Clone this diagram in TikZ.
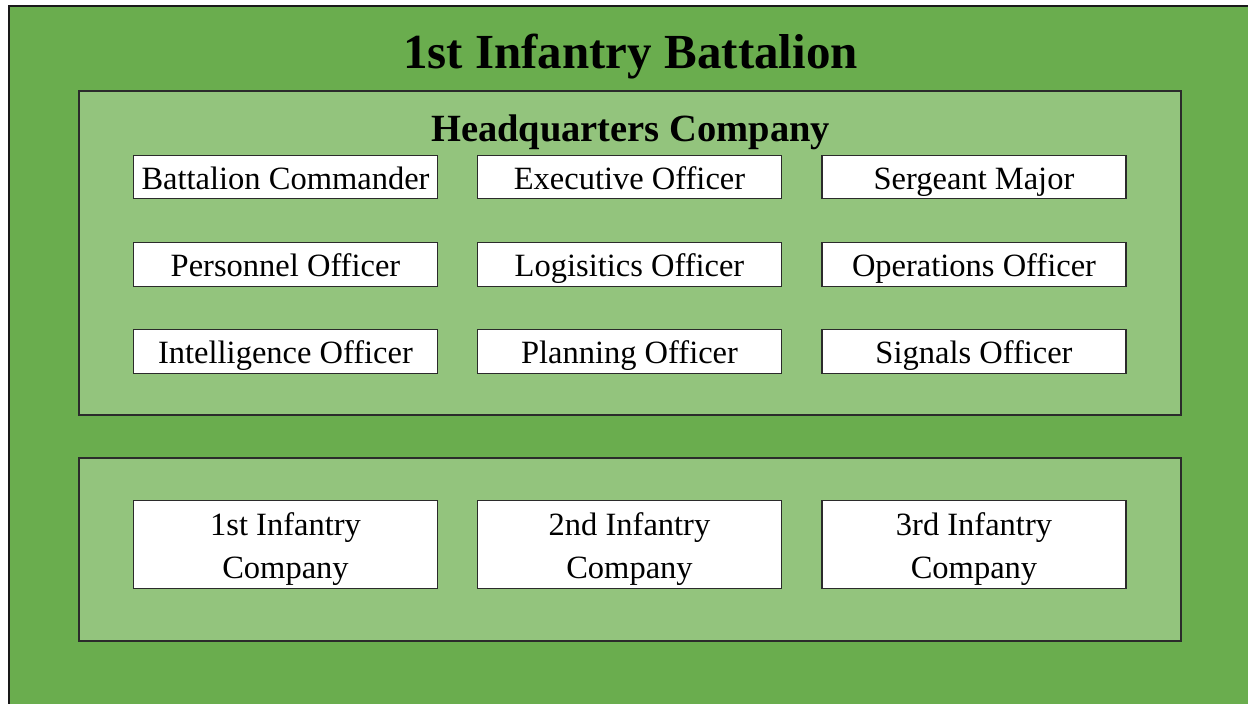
\documentclass[tikz,border=0pt]{standalone}
\usepackage{fontspec}
\setmainfont{Liberation Serif}
\definecolor{outergreen}{HTML}{6AAD4E}
\definecolor{panelgreen}{HTML}{93C47D}
\definecolor{edgegray}{HTML}{2B2B2B}
\begin{document}
\begin{tikzpicture}[x=1pt,y=-1pt,
  outerbg/.style={fill=outergreen, draw=black!90, line width=2.2pt},
  panel/.style={fill=panelgreen, draw=edgegray, line width=1.3pt, inner sep=0pt, minimum width=1102pt},
  rolebox/.style={draw=edgegray, line width=1.2pt, fill=white, minimum width=304pt, minimum height=43.5pt, inner sep=0pt, font=\fontsize{32.5}{43}\selectfont, text height=24pt, text depth=0pt},
  cobox/.style={rolebox, minimum height=87.5pt, align=center, text height=67pt, text depth=0pt},
  titletext/.style={anchor=base, font=\bfseries\fontsize{49}{58}\selectfont},
  subtitletext/.style={anchor=base, font=\bfseries\fontsize{38.5}{46}\selectfont}]
\useasboundingbox (0,0) rectangle (1248,704);
\fill[white] (0,0) rectangle (1248,704);
\begin{scope}
  \clip (0,0) rectangle (1248,704);
  \draw[outerbg] (9,6) rectangle (1275,730);
\end{scope}
\node[titletext] (title) at (630.5,68) {1st Infantry Battalion};
\node[panel, minimum height=324pt] (hq) at (630,253) {};
\node[subtitletext] (hqtitle) at (630.5,141) {Headquarters Company};
\node[rolebox] (bc) at (285.5,177) {Battalion Commander};
\node[rolebox] (xo) at (629.5,177) {Executive Officer};
\node[rolebox] (sm) at (974,177) {Sergeant Major};
\node[rolebox] (po) at (285.5,264.5) {Personnel Officer};
\node[rolebox] (lo) at (629.5,264.5) {Logisitics Officer};
\node[rolebox] (oo) at (974,264.5) {Operations Officer};
\node[rolebox] (io) at (285.5,351.5) {Intelligence Officer};
\node[rolebox] (pl) at (629.5,351.5) {Planning Officer};
\node[rolebox] (so) at (974,351.5) {Signals Officer};
\node[panel, minimum height=183pt] (cos) at (630,549.5) {};
\node[cobox] (c1) at (285.5,544.5) {1st Infantry\\Company};
\node[cobox] (c2) at (629.5,544.5) {2nd Infantry\\Company};
\node[cobox] (c3) at (974,544.5) {3rd Infantry\\Company};
\end{tikzpicture}
\end{document}
